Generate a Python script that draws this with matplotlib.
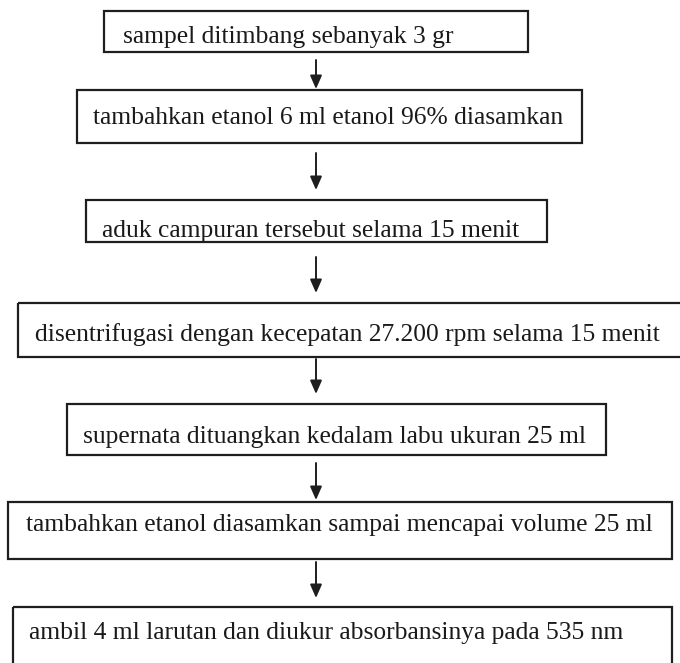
import matplotlib.pyplot as plt
from matplotlib.patches import Rectangle

# langkah-langkah prosedur (teks tiap kotak)
steps = [
    "sampel ditimbang sebanyak 3 gr",
    "tambahkan etanol 6 ml etanol 96% diasamkan",
    "aduk campuran tersebut selama 15 menit",
    "disentrifugasi dengan kecepatan 27.200 rpm selama 15 menit",
    "supernata dituangkan kedalam labu ukuran 25 ml",
    "tambahkan etanol diasamkan sampai mencapai volume 25 ml",
    "ambil 4 ml larutan dan diukur absorbansinya pada 535 nm",
]

# tata letak kotak dalam piksel: (kiri, atas, kanan, bawah, x teks, baseline teks, potong)
layout = [
    (104, 11, 528, 52, 123, 43, True),
    (77, 90, 582, 143, 93, 124, False),
    (86, 200, 547, 242, 102, 237, True),
    (18, 303, 700, 357, 35, 341, False),
    (67, 404, 606, 455, 83, 443, False),
    (8, 502, 672, 559, 26, 531, False),
    (13, 607, 672, 700, 29, 639, False),
]
arrow_x = 316
arrows = [(60, 89), (153, 190), (257, 293), (359, 394), (463, 500), (562, 598)]

plt.rcParams['font.family'] = ['Liberation Serif', 'DejaVu Serif']

fig = plt.figure(figsize=(6.8, 6.63), dpi=100)
ax = fig.add_axes([0, 0, 1, 1])
ax.set_xlim(0, 680)
ax.set_ylim(663, 0)
ax.axis('off')

for label, (x0, y0, x1, y1, tx, ty, clip) in zip(steps, layout):
    box = Rectangle((x0, y0), x1 - x0, y1 - y0, fill=False,
                    edgecolor='#1e1e1e', linewidth=1.6)
    ax.add_patch(box)
    t = ax.text(tx, ty, label, fontsize=18.4, color='#1a1a1a',
                ha='left', va='baseline')
    if clip:
        cp = Rectangle((x0, y0), x1 - x0, ty + 2 - y0, transform=ax.transData)
        t.set_clip_path(cp)

for ys, ye in arrows:
    ax.annotate("", xy=(arrow_x, ye), xytext=(arrow_x, ys),
                arrowprops=dict(arrowstyle="-|>,head_length=0.8,head_width=0.35",
                                color='#1e1e1e', lw=1.4,
                                shrinkA=0, shrinkB=0))

fig.savefig("out.png", dpi=100, facecolor='white')
